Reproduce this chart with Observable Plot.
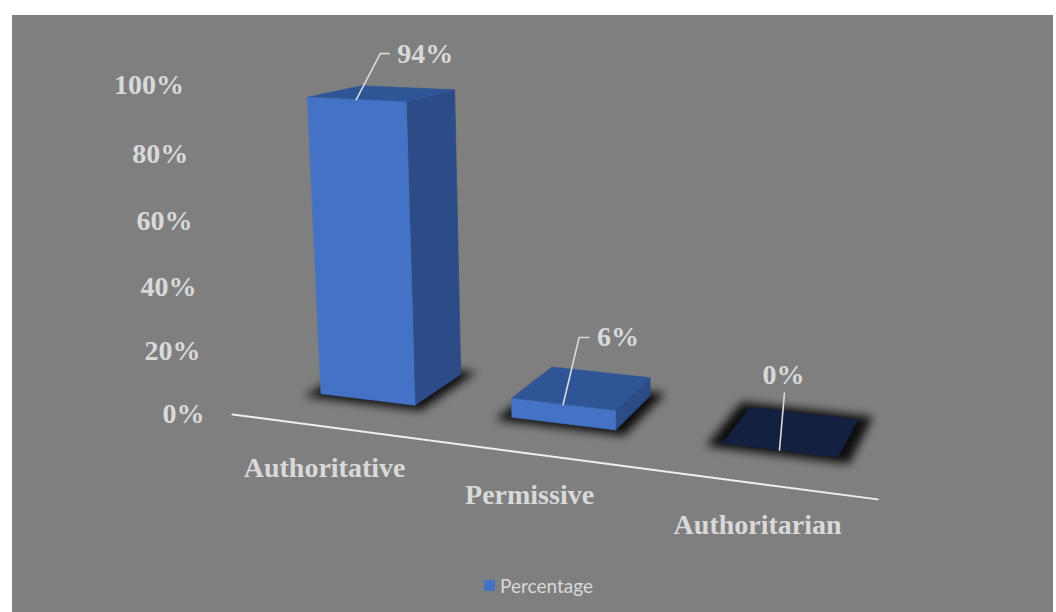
<!DOCTYPE html>
<html>
<head>
<meta charset="utf-8">
<script src="https://cdn.jsdelivr.net/npm/d3@7"></script>
<script src="https://cdn.jsdelivr.net/npm/@observablehq/plot@0.6"></script>
<style>
  html, body { margin: 0; padding: 0; background: #ffffff; }
  #frame { position: absolute; left: 12px; top: 15px; width: 1041px; height: 597px; background: #7f7f7f; overflow: hidden; }
  #chart svg { display: block; }
  #legend { height: 30px; display: flex; justify-content: center; align-items: center; padding-left: 12px;
            font-family: Lato, "Open Sans", sans-serif; font-size: 19px; color: #d9d9d9; }
  #legend .swatch { width: 11px; height: 11px; background: #4472C4; margin-right: 5px; }
</style>
</head>
<body>
<div id="frame">
  <div id="chart"></div>
  <div id="legend"></div>
</div>
<script>
// ---------------- data ----------------
const categories = ["Authoritative", "Permissive", "Authoritarian"];
const percentages = [0.94, 0.06, 0.00];
const valueTicks = [0, 0.2, 0.4, 0.6, 0.8, 1.0];
const seriesName = "Percentage";

// ---------------- layout / style ----------------
const W = 1041, HS = 555;
const view = { yaw: 20, pitch: 14, focal: 1450, dist: 6.891, cx: 570, cy: 266.5, target: [0, 0.622, 0.685] };
const world = { height: 1.57, spacing: 1.03, barWidth: 0.52, barDepth: 0.53, frontGap: 0.42, floorHalf: 1.53, shadowGrow: 0.06 };
const colors = { bg: "#7f7f7f", front: "#4472C4", top: "#2F5597", side: "#2B4C87", empty: "#14203F", text: "#D9D9D9", axis: "#EEEEEE" };
const font = { family: "Liberation Serif", size: 28 };
// data-label leader lines: elbow offset from the bar's top-front centre, horizontal tail, label placement
const labelLayout = [
  { ex: 24, ey: -46, tail: 9, place: "right" },
  { ex: 16, ey: -67, tail: 10, place: "right" },
  { ex: 5,  ey: -57, tail: 0, place: "top" }
];

// ---------------- 3D perspective projection ----------------
const rad = Math.PI / 180;
const cT = Math.cos(view.yaw * rad), sT = Math.sin(view.yaw * rad);
const cP = Math.cos(view.pitch * rad), sP = Math.sin(view.pitch * rad);
function project([X, Y, Z]) {
  const x = X - view.target[0], y = Y - view.target[1], z = Z - view.target[2];
  const x1 = x * cT + z * sT;
  const z1 = -x * sT + z * cT;
  const y2 = y * cP + z1 * sP;
  const z2 = -y * sP + z1 * cP;
  const zc = z2 + view.dist;
  return [view.cx + view.focal * x1 / zc, view.cy - view.focal * y2 / zc];
}
const n = categories.length;
const catX = i => (i - (n - 1) / 2) * world.spacing;

// ---------------- mark data built from the arrays ----------------
const faceRows = [], shadowRows = [], leaderRows = [], rightLabels = [], topLabels = [];
categories.forEach((cat, i) => {
  const v = percentages[i];
  const c = catX(i);
  const h = v * world.height;
  const xa = c - world.barWidth / 2, xb = c + world.barWidth / 2;
  const za = world.frontGap, zb = world.frontGap + world.barDepth;
  const g = world.shadowGrow;
  [[xa - g, 0, za - g], [xb + g, 0, za - g], [xb + g, 0, zb + g], [xa - g, 0, zb + g]]
    .forEach(p => { const [px, py] = project(p); shadowRows.push({ id: cat, x: px, y: py }); });
  const quads = [];
  if (h > 0) quads.push(["side", colors.side, [[xb, 0, za], [xb, 0, zb], [xb, h, zb], [xb, h, za]]]);
  quads.push(["top", h > 0 ? colors.top : colors.empty, [[xa, h, za], [xb, h, za], [xb, h, zb], [xa, h, zb]]]);
  if (h > 0) quads.push(["front", colors.front, [[xa, 0, za], [xb, 0, za], [xb, h, za], [xa, h, za]]]);
  quads.forEach(([face, color, pts]) => pts.forEach(p => {
    const [px, py] = project(p);
    faceRows.push({ id: cat + "-" + face, color, x: px, y: py });
  }));
  const L = labelLayout[i];
  const [ax, ay] = project([c, h, za]);
  const ex = ax + L.ex, ey = ay + L.ey;
  leaderRows.push({ id: cat, x: ax, y: ay }, { id: cat, x: ex, y: ey });
  if (L.tail) leaderRows.push({ id: cat, x: ex + L.tail, y: ey });
  if (L.place === "right") rightLabels.push({ text: d3.format(".0%")(v), x: ex + L.tail + 8, y: ey });
  else topLabels.push({ text: d3.format(".0%")(v), x: ex - 1, y: ey - 18 });
});
const floorLine = [-world.floorHalf, world.floorHalf].map(X => { const [x, y] = project([X, 0, 0]); return { x, y }; });
const tickRows = valueTicks.map(t => { const [x, y] = project([-world.floorHalf, t * world.height, 0]); return { t, x, y }; });
const catRows = categories.map((cat, i) => { const [x, y] = project([catX(i), 0, 0]); return { cat, x, y }; });

const textStyle = { fill: colors.text, fontFamily: font.family, fontSize: font.size, fontWeight: "bold" };

// blur the shadow group
function softShadow(index, scales, values, dimensions, context, next) {
  const g = next(index, scales, values, dimensions, context);
  const id = "soft-shadow";
  const f = d3.select(g).insert("filter", ":first-child").attr("id", id)
    .attr("x", "-50%").attr("y", "-50%").attr("width", "200%").attr("height", "200%");
  f.append("feGaussianBlur").attr("stdDeviation", 5);
  g.setAttribute("filter", `url(#${id})`);
  return g;
}

const svg = Plot.plot({
  width: W, height: HS, margin: 0,
  x: { type: "identity", axis: null },
  y: { type: "identity", axis: null },
  color: { type: "identity" },
  style: { background: colors.bg, fontFamily: font.family, overflow: "visible" },
  marks: [
    Plot.line(floorLine, { x: "x", y: "y", stroke: colors.axis, strokeWidth: 2 }),
    Plot.line(shadowRows, { x: "x", y: "y", z: "id", fill: "#000000", fillOpacity: 0.9, stroke: "none", curve: "linear-closed", render: softShadow }),
    Plot.line(faceRows, { x: "x", y: "y", z: "id", fill: "color", stroke: "color", strokeWidth: 0.6, curve: "linear-closed" }),
    Plot.line(leaderRows, { x: "x", y: "y", z: "id", stroke: colors.text, strokeWidth: 1.6 }),
    Plot.text(tickRows, { x: "x", y: "y", text: d => d3.format(".0%")(d.t), textAnchor: "end", dx: -28, ...textStyle }),
    Plot.text(catRows, { x: "x", y: "y", text: "cat", dy: 41, textAnchor: "middle", ...textStyle }),
    Plot.text(rightLabels, { x: "x", y: "y", text: "text", textAnchor: "start", ...textStyle }),
    Plot.text(topLabels, { x: "x", y: "y", text: "text", textAnchor: "middle", ...textStyle })
  ]
});
document.getElementById("chart").appendChild(svg);

// legend
const legend = d3.select("#legend");
legend.append("div").attr("class", "swatch");
legend.append("span").text(seriesName);
</script>
</body>
</html>
